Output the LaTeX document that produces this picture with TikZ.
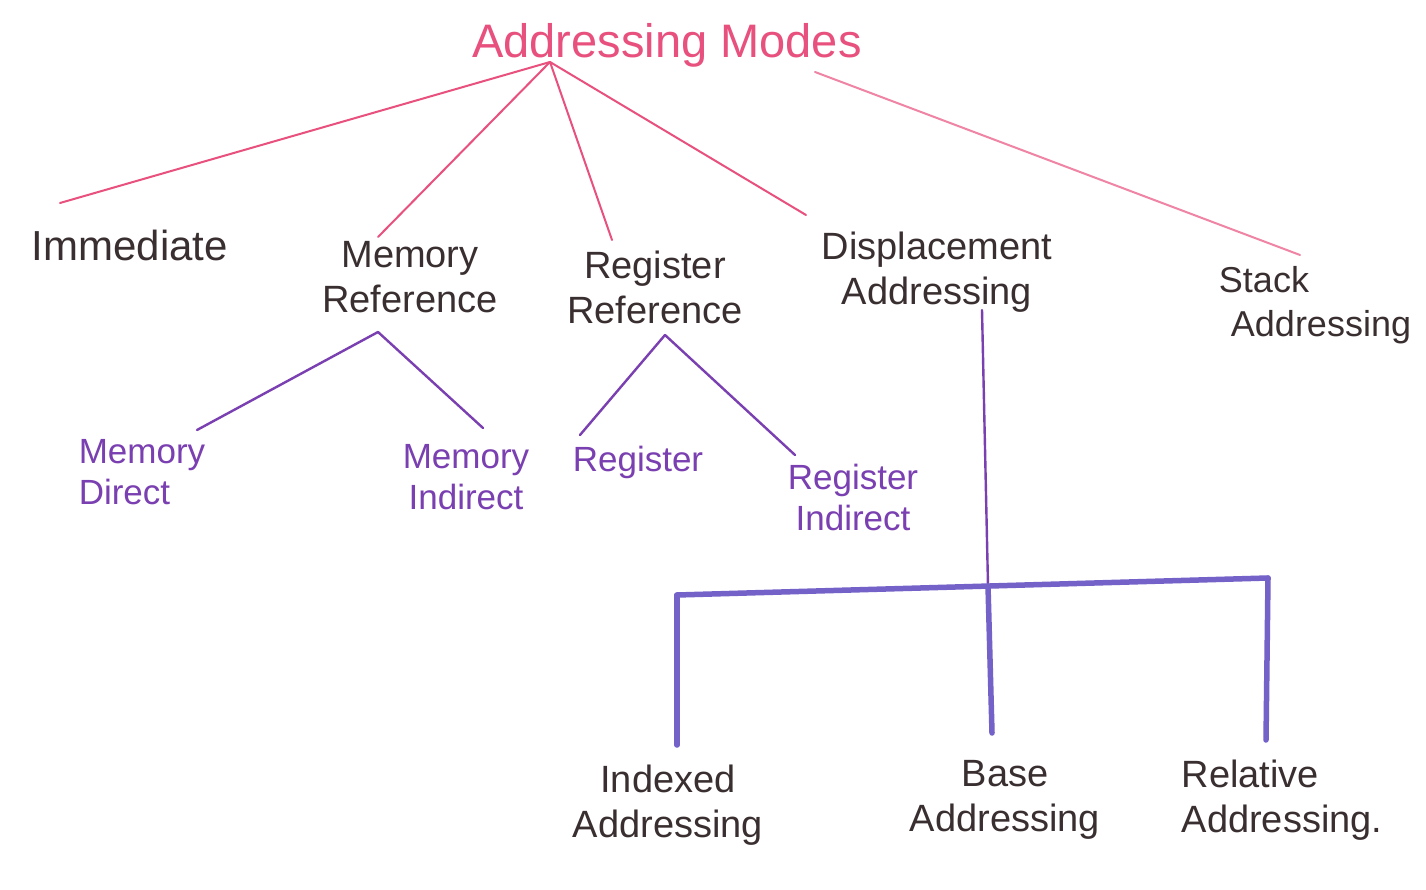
\documentclass[tikz,border=0pt]{standalone}
\usepackage{fontspec}
\setmainfont{Liberation Sans}
\definecolor{pinkink}{HTML}{E8507E}
\definecolor{purpink}{HTML}{7A3FB0}
\definecolor{barink}{HTML}{7462C8}
\definecolor{darkink}{HTML}{3A2F30}
\begin{document}
\begin{tikzpicture}[x=1pt,y=-1pt,
  pinkline/.style={draw=pinkink,line width=2pt,line cap=round},
  purpleline/.style={draw=purpink,line width=2.4pt,line cap=round},
  barline/.style={draw=barink,line width=5.5pt,line cap=round},
  titletext/.style={text=pinkink,font=\fontsize{47}{50}\selectfont,inner sep=0pt},
  leveltext/.style={text=darkink,font=\fontsize{38}{45}\selectfont,align=center,inner sep=0pt},
  subtext/.style={text=purpink,font=\fontsize{35}{41}\selectfont,align=center,inner sep=0pt}]
\useasboundingbox[fill=white] (0,0) rectangle (1426,890);

% nodes
\node[titletext] (title) at (667,45) {Addressing Modes};
\node[leveltext,font=\fontsize{42}{45}\selectfont] (imm) at (130,245) {Immediate};
\node[leveltext] (memref) at (410,277) {Memory\\Reference};
\node[leveltext] (regref) at (655,287) {Register\\Reference};
\node[leveltext] (disp) at (937,272) {Displacement\\Addressing};
\node[leveltext,align=left,font=\fontsize{36}{44}\selectfont] (stack) at (1315,305) {Stack\\\hspace*{12pt}Addressing};
\node[subtext,align=left] (memdir) at (142,472) {Memory\\Direct};
\node[subtext] (memind) at (466,477) {Memory\\Indirect};
\node[subtext] (reg) at (638,462) {Register};
\node[subtext] (regind) at (853,497) {Register\\Indirect};
\node[leveltext] (idx) at (668,805) {Indexed\\Addressing};
\node[leveltext] (base) at (1005,800) {Base\\Addressing};
\node[leveltext,align=left] (rel) at (1282,800) {Relative\\Addressing.};

% connector end points
\coordinate (root) at (550,62);
\coordinate (root2) at (815,72);
\coordinate (immtop) at (60,203);
\coordinate (memreftop) at (378,237);
\coordinate (regreftop) at (612,240);
\coordinate (disptop) at (806,215);
\coordinate (stacktop) at (1300,255);
\coordinate (memrefbot) at (378,332);
\coordinate (memdirtop) at (197,430);
\coordinate (memindtop) at (483,428);
\coordinate (regrefbot) at (665,335);
\coordinate (regtop) at (580,435);
\coordinate (regindtop) at (795,455);
\coordinate (dispbot) at (982,310);
\coordinate (barmid) at (988,586);
\coordinate (barleft) at (677,595);
\coordinate (barright) at (1268,578);
\coordinate (idxtop) at (677,745);
\coordinate (basetop) at (992,733);
\coordinate (reltop) at (1266,740);

% pink connectors
\draw[pinkline] (root) -- (immtop);
\draw[pinkline] (root) -- (memreftop);
\draw[pinkline] (root) -- (regreftop);
\draw[pinkline] (root) -- (disptop);
\draw[pinkline,draw=pinkink!70] (root2) -- (stacktop);

% purple connectors
\draw[purpleline] (memrefbot) -- (memdirtop);
\draw[purpleline] (memrefbot) -- (memindtop);
\draw[purpleline] (regrefbot) -- (regtop);
\draw[purpleline] (regrefbot) -- (regindtop);
\draw[purpleline] (dispbot) -- (barmid);

% bar and drops
\draw[barline] (barleft) -- (barright);
\draw[barline] (barleft) -- (idxtop);
\draw[barline] (barmid) -- (basetop);
\draw[barline] (barright) -- (reltop);
\end{tikzpicture}
\end{document}
